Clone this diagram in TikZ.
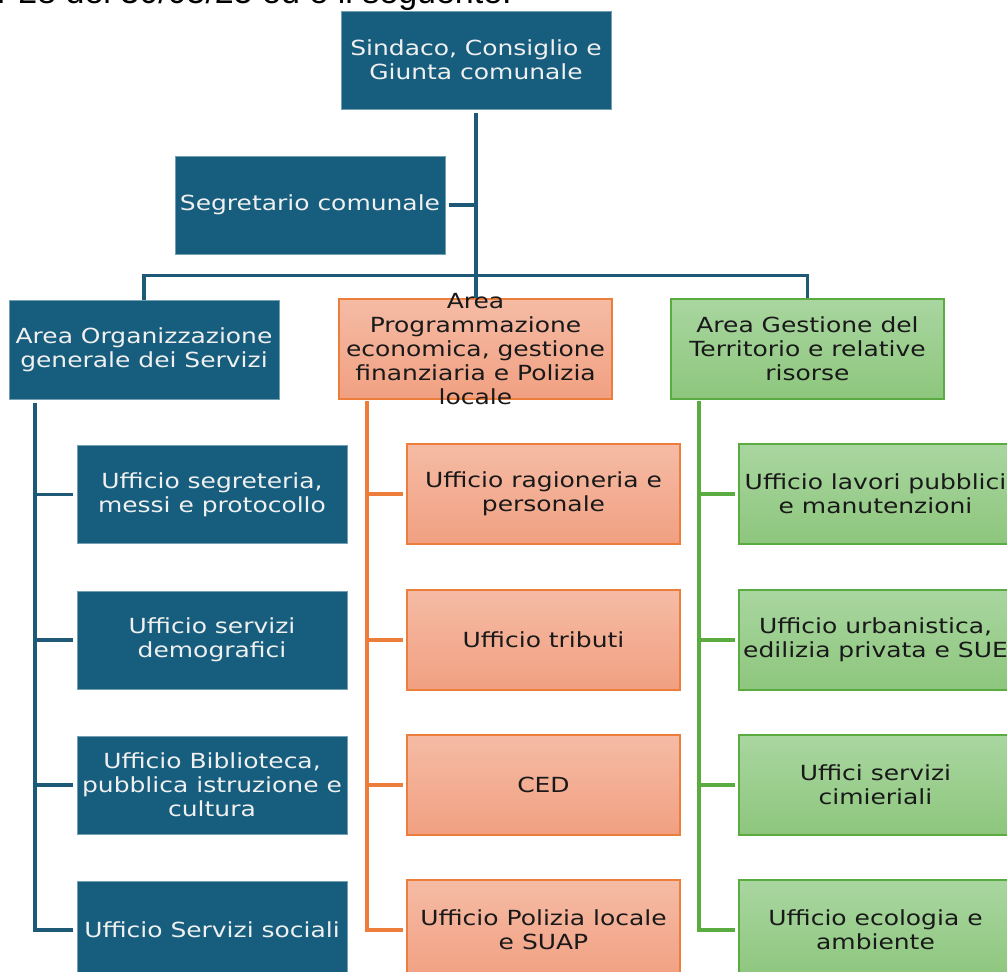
\documentclass[tikz,border=0pt]{standalone}
\usepackage{fontspec}
\setmainfont{DejaVu Sans}[FakeStretch=1.2]
\newfontfamily\topfont{Liberation Sans}
\definecolor{boxblue}{RGB}{23,94,126}
\definecolor{lineblue}{RGB}{30,90,120}
\definecolor{ortop}{RGB}{245,187,165}
\definecolor{orbot}{RGB}{241,160,129}
\definecolor{orline}{RGB}{237,125,58}
\definecolor{grtop}{RGB}{169,214,160}
\definecolor{grbot}{RGB}{141,198,125}
\definecolor{grline}{RGB}{90,172,64}
\definecolor{txtdark}{RGB}{25,25,25}
\begin{document}
\begin{tikzpicture}[x=1pt,y=-1pt,
  bluebox/.style={rectangle, fill=boxblue, draw=boxblue!60!white, line width=0.6pt, inner sep=0pt, minimum width=270pt, minimum height=98pt},
  orbox/.style={rectangle, draw=orline, line width=2.2pt, top color=ortop, bottom color=orbot, inner sep=0pt, minimum width=273pt, minimum height=100pt},
  grbox/.style={rectangle, draw=grline, line width=2.2pt, top color=grtop, bottom color=grbot, inner sep=0pt, minimum width=273pt, minimum height=100pt},
  wtxt/.style={text=white!94!black, align=center, inner sep=0pt, font=\fontsize{20.8}{24}\selectfont},
  btxt/.style={text=txtdark, align=center, inner sep=0pt, font=\fontsize{20.8}{24}\selectfont},
  bl/.style={draw=lineblue, line width=3.5pt},
  ol/.style={draw=orline, line width=3.5pt},
  gl/.style={draw=grline, line width=3.5pt}]
\useasboundingbox (0,0) rectangle (1007,972);
\clip (0,0) rectangle (1007,972);

% header text (cut off at top)
\node[anchor=base east, inner sep=0pt, text=black, font=\topfont\fontsize{34}{40}\selectfont] (hdr) at (512,3) {n. 28 del 30/05/25 ed è il seguente:};

% top level
\node[bluebox] (sind) at (476,60) {};
\node[wtxt] (sindt) at (sind) {Sindaco, Consiglio e\\Giunta comunale};
\node[bluebox] (segr) at (310,205) {};
\node[wtxt] (segrt) at (segr) {Segretario comunale};

% areas
\node[bluebox, minimum height=99pt] (aorg) at (144,349.5) {};
\node[wtxt] (aorgt) at (aorg) {Area Organizzazione\\generale dei Servizi};
\node[orbox] (aprog) at (475.5,349) {};
\node[btxt] (aprogt) at (aprog) {Area\\Programmazione\\economica, gestione\\finanziaria e Polizia\\locale};
\node[grbox] (agest) at (807.5,349) {};
\node[btxt] (agestt) at (agest) {Area Gestione del\\Territorio e relative\\risorse};

% left column
\node[bluebox] (l1) at (212,494.5) {};
\node[wtxt] (l1t) at (l1) {Ufficio segreteria,\\messi e protocollo};
\node[bluebox] (l2) at (212,640) {};
\node[wtxt] (l2t) at (l2) {Ufficio servizi\\demografici};
\node[bluebox] (l3) at (212,785) {};
\node[wtxt] (l3t) at (l3) {Ufficio Biblioteca,\\pubblica istruzione e\\cultura};
\node[bluebox] (l4) at (212,930) {};
\node[wtxt] (l4t) at (l4) {Ufficio Servizi sociali};

% middle column
\node[orbox] (m1) at (543.5,494) {};
\node[btxt] (m1t) at (m1) {Ufficio ragioneria e\\personale};
\node[orbox] (m2) at (543.5,640) {};
\node[btxt] (m2t) at (m2) {Ufficio tributi};
\node[orbox] (m3) at (543.5,785) {};
\node[btxt] (m3t) at (m3) {CED};
\node[orbox] (m4) at (543.5,930) {};
\node[btxt] (m4t) at (m4) {Ufficio Polizia locale\\e SUAP};

% right column
\node[grbox] (r1) at (875.5,494) {};
\node[btxt] (r1t) at (r1) {Ufficio lavori pubblici\\e manutenzioni};
\node[grbox] (r2) at (875.5,640) {};
\node[btxt] (r2t) at (r2) {Ufficio urbanistica,\\edilizia privata e SUE};
\node[grbox] (r3) at (875.5,785) {};
\node[btxt] (r3t) at (r3) {Uffici servizi\\cimieriali};
\node[grbox] (r4) at (875.5,930) {};
\node[btxt] (r4t) at (r4) {Ufficio ecologia e\\ambiente};

% top connectors
\draw[bl, shorten <=4pt] (sind.south) -- (sind.south |- aprog.north);
\draw[bl, shorten <=4pt] (segr.east) -- (segr.east -| sind.south);
\draw[bl] (aorg.north) -- ++(0,-24) -| (agest.north);

% left spine
\coordinate (ls) at (35,403);
\draw[bl] (ls) |- ([xshift=-4pt]l4.west);
\foreach \n in {l1,l2,l3} \draw[bl] (ls |- \n.west) -- ([xshift=-4pt]\n.west);

% middle spine
\coordinate (ms) at (367,401);
\draw[ol] (ms) |- ([xshift=-3pt]m4.west);
\foreach \n in {m1,m2,m3} \draw[ol] (ms |- \n.west) -- ([xshift=-3pt]\n.west);

% right spine
\coordinate (rs) at (699,401);
\draw[gl] (rs) |- ([xshift=-3pt]r4.west);
\foreach \n in {r1,r2,r3} \draw[gl] (rs |- \n.west) -- ([xshift=-3pt]\n.west);
\end{tikzpicture}
\end{document}
